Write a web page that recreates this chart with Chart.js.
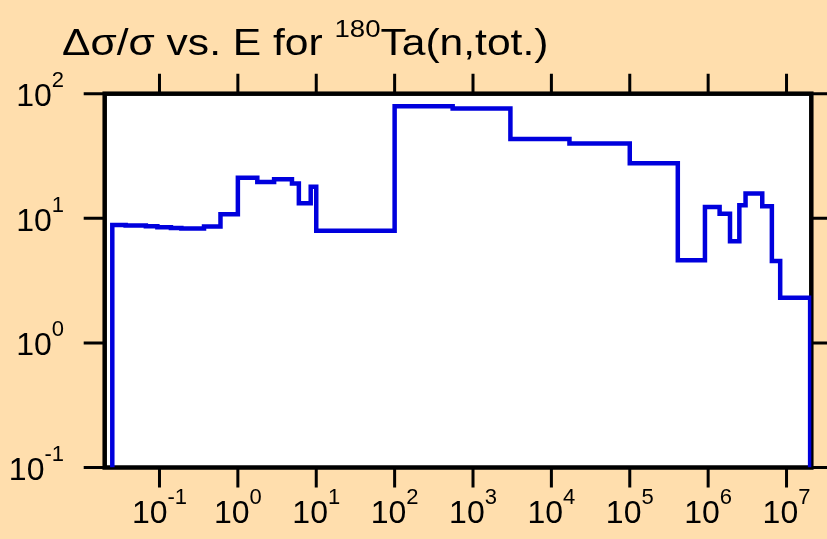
<!DOCTYPE html>
<html>
<head>
<meta charset="utf-8">
<script src="https://cdn.jsdelivr.net/npm/chart.js@4"></script>
<style>
  body { margin: 0; background: #ffdead; }
  canvas { display: block; }
</style>
</head>
<body>
<canvas id="chart" width="827" height="539"></canvas>
<script>
// histogram bin edges in eV, and the relative uncertainty of each bin (%)
const binEdges = [0.025, 0.037, 0.067, 0.094, 0.14, 0.19, 0.37, 0.6, 1, 1.77, 2.9, 4.9, 6, 8.5, 10,
  100, 550, 3000, 17000, 1e5, 4.1e5, 9.1e5, 1.4e6, 1.9e6, 2.5e6, 3e6, 4.9e6, 6.5e6, 8.3e6, 2e7];
const relUnc = [8.85, 8.75, 8.63, 8.47, 8.37, 8.28, 8.59, 10.8, 21.2, 19.6, 20.6, 19.0, 13.2, 17.9, 7.93,
  79.4, 76.1, 43.2, 39.8, 27.7, 4.61, 12.3, 10.9, 6.55, 12.7, 15.8, 12.5, 4.55, 2.30];

const xTicks = [1e-1, 1e0, 1e1, 1e2, 1e3, 1e4, 1e5, 1e6, 1e7];
const yTicks = [1e-1, 1e0, 1e1, 1e2];
const xMin = 0.02, xMax = 2.07e7;

const titleHead = 'Δσ/σ vs. E for ';
const titleSup = '180';
const titleTail = 'Ta(n,tot.)';

const BG = '#ffdead';
const labelFont = '"Liberation Sans Narrow", "Liberation Sans", Arial, sans-serif';
const titleFont = '"Liberation Sans", Arial, sans-serif';

// step points: each bin's value held up to its upper edge, closed down to the axis floor
const yFloor = yTicks[0];
const points = [{ x: binEdges[0], y: yFloor }];
relUnc.forEach((v, i) => points.push({ x: binEdges[i + 1], y: v }));
points.push({ x: binEdges[binEdges.length - 1], y: yFloor });

function powLabel(ctx, exp, x, y, align) {
  ctx.font = '32px ' + labelFont;
  const wBase = ctx.measureText('10').width;
  ctx.font = '22px ' + labelFont;
  const sup = String(exp);
  const wSup = ctx.measureText(sup).width;
  let x0 = x;
  if (align === 'center') x0 = x - (wBase + wSup) / 2;
  else if (align === 'right') x0 = x - (wBase + wSup);
  ctx.textAlign = 'left';
  ctx.textBaseline = 'alphabetic';
  ctx.font = '32px ' + labelFont;
  ctx.fillText('10', x0, y);
  ctx.font = '22px ' + labelFont;
  ctx.fillText(sup, x0 + wBase, y - 19);
}

const frame = {
  id: 'frame',
  beforeDraw(chart) {
    const { ctx, chartArea: a } = chart;
    ctx.save();
    ctx.fillStyle = BG;
    ctx.fillRect(0, 0, chart.width, chart.height);
    ctx.fillStyle = '#ffffff';
    ctx.fillRect(a.left, a.top, a.right - a.left, a.bottom - a.top);
    ctx.restore();
  },
  beforeDatasetsDraw(chart) {
    const { ctx, chartArea: a, scales } = chart;
    ctx.save();
    ctx.strokeStyle = '#000';
    ctx.lineWidth = 3;
    ctx.beginPath();
    xTicks.forEach(v => {
      const px = scales.x.getPixelForValue(v);
      ctx.moveTo(px, a.bottom); ctx.lineTo(px, a.bottom + 20);
      ctx.moveTo(px, a.top); ctx.lineTo(px, a.top - 20);
    });
    yTicks.forEach(v => {
      const py = scales.y.getPixelForValue(v);
      ctx.moveTo(a.left, py); ctx.lineTo(a.left - 21, py);
      ctx.moveTo(a.right, py); ctx.lineTo(a.right + 20, py);
    });
    ctx.stroke();
    ctx.lineWidth = 4.5;
    ctx.strokeRect(a.left, a.top, a.right - a.left, a.bottom - a.top);

    ctx.fillStyle = '#000';
    xTicks.forEach(v => {
      const px = scales.x.getPixelForValue(v);
      powLabel(ctx, Math.round(Math.log10(v)), px, 523, 'center');
    });
    yTicks.forEach(v => {
      const py = scales.y.getPixelForValue(v);
      powLabel(ctx, Math.round(Math.log10(v)), 64, py + 12.5, 'right');
    });

    // title with superscript mass number, a bit wider than the stock face
    ctx.textAlign = 'left';
    ctx.translate(62, 0);
    ctx.scale(1.15, 1);
    let tx = 0;
    ctx.font = '37px ' + titleFont;
    ctx.fillText(titleHead, tx, 55);
    tx += ctx.measureText(titleHead).width;
    ctx.font = '24px ' + titleFont;
    ctx.fillText(titleSup, tx, 37);
    tx += ctx.measureText(titleSup).width;
    ctx.font = '37px ' + titleFont;
    ctx.fillText(titleTail, tx, 55);
    ctx.restore();
  }
};

new Chart(document.getElementById('chart'), {
  type: 'line',
  data: {
    datasets: [{
      data: points,
      borderColor: '#0000dd',
      borderWidth: 4.5,
      pointRadius: 0,
      stepped: 'after',
      fill: false
    }]
  },
  options: {
    responsive: false,
    animation: false,
    layout: { padding: { left: 104.7, right: 15.7, top: 93.7, bottom: 71.5 } },
    plugins: { legend: { display: false }, tooltip: { enabled: false } },
    scales: {
      x: { type: 'logarithmic', min: xMin, max: xMax, display: false },
      y: { type: 'logarithmic', min: yTicks[0], max: yTicks[yTicks.length - 1], display: false }
    }
  },
  plugins: [frame]
});
</script>
</body>
</html>
